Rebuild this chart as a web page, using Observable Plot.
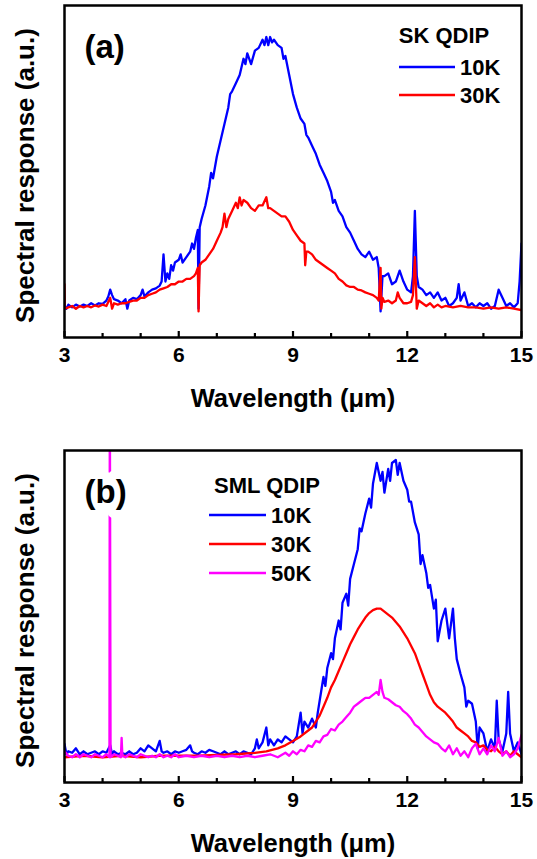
<!DOCTYPE html>
<html>
<head>
<meta charset="utf-8">
<script src="https://cdn.jsdelivr.net/npm/d3@7"></script>
<script src="https://cdn.jsdelivr.net/npm/@observablehq/plot@0.6"></script>
<style>
  html, body { margin: 0; padding: 0; background: #fff; }
  #wrap { width: 537px; }
  #wrap svg { display: block; }
</style>
</head>
<body>
<div id="wrap"></div>
<script>
// ---------- data (wavelength µm, response a.u.) ----------
const majorTicks = [3, 6, 9, 12, 15];
const minorTicks = [4, 5, 7, 8, 10, 11, 13, 14];
const xLabel = "Wavelength (\u03bcm)";
const yLabel = "Spectral response (a.u.)";

const skSeriesNames = ["10K", "30K"];
const smlSeriesNames = ["10K", "30K", "50K"];
const seriesColors = {"10K": "#0000ff", "30K": "#ff0000", "50K": "#ff00ff"};

const sk10K = [[3.00,0.01],[3.05,0.0],[3.1,0.015],[3.2,0.005],[3.3,0.015],[3.4,0.008],[3.5,0.015],[3.6,0.01],[3.7,0.02],[3.8,0.012],[3.9,0.02],[4.0,0.018],[4.1,0.03],[4.15,0.045],[4.2,0.07],[4.25,0.05],[4.3,0.035],[4.4,0.03],[4.5,0.02],[4.6,0.035],[4.65,0.0],[4.7,0.03],[4.8,0.04],[4.9,0.035],[5.0,0.05],[5.05,0.07],[5.1,0.045],[5.2,0.06],[5.3,0.07],[5.4,0.075],[5.5,0.085],[5.55,0.1],[5.6,0.2],[5.65,0.1],[5.7,0.13],[5.75,0.11],[5.8,0.16],[5.85,0.14],[5.9,0.17],[6.0,0.18],[6.05,0.2],[6.1,0.17],[6.2,0.19],[6.3,0.21],[6.35,0.24],[6.4,0.22],[6.45,0.26],[6.5,0.29],[6.52,0.0],[6.55,0.3],[6.6,0.33],[6.7,0.38],[6.8,0.45],[6.85,0.5],[6.9,0.48],[7.0,0.56],[7.1,0.62],[7.2,0.68],[7.3,0.74],[7.35,0.79],[7.4,0.8],[7.5,0.83],[7.6,0.86],[7.7,0.92],[7.75,0.9],[7.8,0.94],[7.9,0.9],[8.0,0.95],[8.1,0.96],[8.2,0.99],[8.25,0.97],[8.3,1.0],[8.35,0.97],[8.4,1.0],[8.45,0.98],[8.5,0.99],[8.6,0.97],[8.7,0.96],[8.75,0.92],[8.8,0.93],[8.9,0.86],[9.0,0.79],[9.1,0.74],[9.2,0.7],[9.3,0.68],[9.35,0.64],[9.4,0.63],[9.5,0.6],[9.6,0.57],[9.7,0.53],[9.8,0.5],[9.9,0.47],[10.0,0.43],[10.05,0.39],[10.1,0.4],[10.2,0.36],[10.3,0.34],[10.4,0.3],[10.5,0.28],[10.6,0.25],[10.7,0.22],[10.8,0.2],[10.9,0.19],[11.0,0.21],[11.1,0.18],[11.2,0.19],[11.25,0.15],[11.3,-0.01],[11.35,0.12],[11.4,0.12],[11.5,0.13],[11.6,0.09],[11.7,0.1],[11.8,0.14],[11.9,0.1],[12.0,0.07],[12.1,0.06],[12.15,0.12],[12.2,0.36],[12.25,0.12],[12.3,0.08],[12.4,0.07],[12.5,0.05],[12.6,0.06],[12.7,0.04],[12.8,0.06],[12.9,0.03],[13.0,0.04],[13.1,0.01],[13.2,0.02],[13.3,0.04],[13.35,0.09],[13.4,0.03],[13.5,0.06],[13.6,0.01],[13.7,0.02],[13.8,0.005],[13.9,0.02],[14.0,0.01],[14.1,0.02],[14.2,0.0],[14.3,0.01],[14.4,0.07],[14.5,0.04],[14.6,0.01],[14.7,0.02],[14.8,0.005],[14.9,0.02],[14.95,0.1],[15.0,0.24]];

const sk30K = [[3.0,0.09],[3.01,0.0],[3.1,0.005],[3.2,0.01],[3.3,0.0],[3.4,0.01],[3.5,0.005],[3.6,0.01],[3.7,0.005],[3.8,0.012],[3.9,0.008],[4.0,0.015],[4.1,0.01],[4.2,0.04],[4.25,0.0],[4.3,0.02],[4.4,0.015],[4.5,0.02],[4.6,0.02],[4.7,0.025],[4.8,0.03],[4.9,0.03],[5.0,0.04],[5.1,0.04],[5.2,0.05],[5.3,0.055],[5.4,0.06],[5.5,0.07],[5.6,0.075],[5.7,0.08],[5.8,0.09],[5.9,0.09],[6.0,0.1],[6.1,0.1],[6.2,0.11],[6.3,0.11],[6.4,0.12],[6.45,0.13],[6.5,0.15],[6.52,-0.01],[6.55,0.16],[6.6,0.17],[6.7,0.18],[6.8,0.2],[6.9,0.22],[7.0,0.25],[7.1,0.28],[7.15,0.3],[7.2,0.35],[7.25,0.3],[7.3,0.33],[7.4,0.36],[7.5,0.39],[7.55,0.37],[7.6,0.41],[7.65,0.38],[7.7,0.4],[7.8,0.39],[7.9,0.37],[8.0,0.36],[8.1,0.38],[8.2,0.38],[8.3,0.41],[8.35,0.37],[8.4,0.37],[8.5,0.36],[8.6,0.35],[8.7,0.34],[8.8,0.34],[8.9,0.32],[9.0,0.29],[9.1,0.27],[9.2,0.25],[9.3,0.24],[9.32,0.16],[9.35,0.21],[9.4,0.21],[9.5,0.2],[9.6,0.18],[9.7,0.17],[9.8,0.16],[9.9,0.15],[10.0,0.14],[10.1,0.13],[10.2,0.11],[10.3,0.1],[10.4,0.086],[10.5,0.08],[10.6,0.08],[10.7,0.07],[10.8,0.067],[10.9,0.06],[11.0,0.055],[11.1,0.05],[11.2,0.04],[11.25,0.03],[11.3,0.15],[11.32,0.0],[11.35,0.04],[11.4,0.025],[11.5,0.03],[11.6,0.02],[11.7,0.03],[11.75,0.06],[11.8,0.04],[11.9,0.02],[12.0,0.02],[12.1,0.025],[12.15,0.05],[12.2,0.19],[12.25,0.0],[12.3,0.03],[12.4,0.02],[12.5,0.01],[12.6,0.02],[12.7,0.005],[12.8,0.015],[12.9,0.005],[13.0,0.01],[13.2,0.005],[13.4,0.01],[13.6,0.005],[13.8,0.005],[14.0,0.0],[14.2,0.005],[14.4,0.0],[14.6,0.005],[14.8,0.0],[15.0,-0.005]];

const sml10K = [[3.0,0.045],[3.05,0.01],[3.1,0.02],[3.2,0.015],[3.3,0.03],[3.4,0.01],[3.5,0.02],[3.6,0.01],[3.7,0.015],[3.8,0.02],[3.9,0.01],[4.0,0.02],[4.1,0.015],[4.2,0.04],[4.25,0.01],[4.3,0.02],[4.4,0.01],[4.5,0.015],[4.6,0.01],[4.7,0.02],[4.8,0.01],[4.9,0.015],[5.0,0.03],[5.1,0.02],[5.2,0.04],[5.3,0.03],[5.4,0.02],[5.5,0.055],[5.55,0.02],[5.6,0.015],[5.7,0.02],[5.8,0.01],[5.9,0.02],[6.0,0.015],[6.1,0.02],[6.2,0.025],[6.3,0.04],[6.35,0.02],[6.4,0.015],[6.5,0.01],[6.6,0.02],[6.7,0.015],[6.8,0.025],[6.9,0.02],[7.0,0.015],[7.1,0.01],[7.2,0.02],[7.3,0.01],[7.4,0.015],[7.5,0.02],[7.6,0.01],[7.7,0.02],[7.8,0.015],[7.9,0.01],[8.0,0.03],[8.05,0.06],[8.1,0.03],[8.2,0.05],[8.3,0.1],[8.35,0.04],[8.4,0.06],[8.5,0.04],[8.6,0.06],[8.7,0.05],[8.8,0.07],[8.9,0.06],[9.0,0.05],[9.1,0.07],[9.2,0.15],[9.25,0.08],[9.3,0.12],[9.4,0.1],[9.5,0.13],[9.6,0.1],[9.65,0.15],[9.7,0.19],[9.8,0.27],[9.85,0.24],[9.9,0.3],[10.0,0.35],[10.05,0.33],[10.1,0.4],[10.2,0.46],[10.25,0.43],[10.3,0.52],[10.4,0.55],[10.45,0.51],[10.5,0.6],[10.6,0.65],[10.7,0.7],[10.75,0.77],[10.8,0.76],[10.9,0.82],[11.0,0.87],[11.05,0.84],[11.1,0.92],[11.2,0.99],[11.25,0.96],[11.3,0.93],[11.35,0.96],[11.4,0.89],[11.5,0.97],[11.55,0.93],[11.6,0.99],[11.7,1.0],[11.75,0.95],[11.8,0.99],[11.9,0.93],[12.0,0.9],[12.05,0.86],[12.1,0.86],[12.2,0.79],[12.3,0.75],[12.35,0.65],[12.4,0.68],[12.5,0.62],[12.55,0.57],[12.6,0.58],[12.7,0.5],[12.75,0.53],[12.8,0.39],[12.9,0.46],[13.0,0.5],[13.1,0.4],[13.2,0.5],[13.25,0.4],[13.3,0.33],[13.4,0.28],[13.5,0.235],[13.55,0.17],[13.6,0.19],[13.7,0.18],[13.8,0.12],[13.85,0.03],[13.9,0.1],[14.0,0.08],[14.1,0.02],[14.2,0.06],[14.3,0.03],[14.35,0.19],[14.4,0.06],[14.5,0.02],[14.6,0.08],[14.65,0.22],[14.7,0.08],[14.8,0.02],[14.9,0.05],[15.0,0.01]];

const sml30K = [[3.0,0.0],[3.5,0.005],[4.0,0.0],[4.5,0.005],[5.0,0.0],[5.5,0.005],[6.0,0.005],[6.5,0.005],[7.0,0.008],[7.5,0.01],[8.0,0.015],[8.3,0.02],[8.6,0.03],[8.8,0.04],[9.0,0.055],[9.2,0.07],[9.4,0.09],[9.5,0.1],[9.6,0.12],[9.7,0.14],[9.8,0.17],[9.9,0.2],[10.0,0.235],[10.1,0.26],[10.2,0.29],[10.3,0.32],[10.4,0.35],[10.5,0.38],[10.6,0.405],[10.7,0.43],[10.8,0.45],[10.9,0.47],[11.0,0.485],[11.1,0.495],[11.2,0.5],[11.3,0.5],[11.4,0.49],[11.5,0.48],[11.6,0.47],[11.7,0.455],[11.8,0.44],[11.9,0.42],[12.0,0.4],[12.1,0.375],[12.2,0.35],[12.3,0.315],[12.4,0.28],[12.5,0.245],[12.6,0.21],[12.7,0.185],[12.8,0.17],[12.9,0.16],[13.0,0.15],[13.1,0.135],[13.2,0.12],[13.3,0.1],[13.4,0.09],[13.5,0.08],[13.6,0.07],[13.7,0.055],[13.8,0.05],[13.9,0.035],[14.0,0.04],[14.1,0.025],[14.2,0.02],[14.3,0.035],[14.4,0.02],[14.5,0.01],[14.6,0.02],[14.7,0.005],[14.8,0.02],[14.9,0.01],[15.0,0.0]];

const sml50K = [[3.0,0.02],[3.1,0.005],[3.2,0.0],[3.3,0.01],[3.4,0.0],[3.5,0.01],[3.6,0.005],[3.7,0.0],[3.8,0.01],[3.9,0.005],[4.0,0.0],[4.1,0.01],[4.18,0.0],[4.19,1.3],[4.21,0.0],[4.3,0.01],[4.4,0.005],[4.48,0.0],[4.5,0.065],[4.52,0.005],[4.6,0.0],[4.7,0.01],[4.8,0.005],[4.9,0.0],[5.0,0.01],[5.1,0.005],[5.2,0.0],[5.3,0.005],[5.4,0.0],[5.5,0.01],[5.6,0.0],[5.7,0.005],[5.8,0.0],[5.9,0.01],[6.0,0.0],[6.2,0.005],[6.4,0.0],[6.6,0.005],[6.8,0.0],[7.0,0.005],[7.2,0.0],[7.4,0.005],[7.6,0.0],[7.8,0.005],[8.0,0.0],[8.2,0.005],[8.4,0.01],[8.6,0.0],[8.8,0.015],[8.9,0.005],[9.0,0.02],[9.1,0.01],[9.2,0.025],[9.3,0.02],[9.4,0.04],[9.5,0.035],[9.6,0.055],[9.7,0.05],[9.8,0.07],[9.9,0.075],[10.0,0.095],[10.1,0.09],[10.2,0.11],[10.3,0.12],[10.4,0.135],[10.5,0.15],[10.6,0.17],[10.7,0.18],[10.8,0.19],[10.9,0.2],[11.0,0.2],[11.1,0.21],[11.2,0.22],[11.25,0.21],[11.3,0.26],[11.35,0.22],[11.4,0.2],[11.5,0.195],[11.6,0.185],[11.7,0.175],[11.8,0.17],[11.9,0.155],[12.0,0.145],[12.1,0.13],[12.2,0.11],[12.3,0.1],[12.4,0.085],[12.5,0.07],[12.6,0.06],[12.7,0.05],[12.8,0.045],[12.9,0.03],[13.0,0.02],[13.1,0.04],[13.2,0.01],[13.3,0.03],[13.4,0.005],[13.5,0.02],[13.6,0.0],[13.7,0.03],[13.8,0.045],[13.9,0.01],[14.0,0.03],[14.1,0.01],[14.2,0.04],[14.3,0.02],[14.4,0.065],[14.5,0.005],[14.6,0.02],[14.7,0.0],[14.8,0.01],[14.9,0.03],[15.0,0.075]];

// ---------- drawing ----------
const FONT = "'Liberation Sans', Arial, Helvetica, sans-serif";
const W = 537;

function panel({height, marginTop, marginBottom, yDomain, series, panelLabel, legendTitle, legendNames, legend}) {
  const marginLeft = 64, marginRight = 16;
  const frameH = height - marginTop - marginBottom;
  const marks = [];
  for (const s of series) {
    marks.push(Plot.line(s.data, {x: d => d[0], y: d => d[1], stroke: seriesColors[s.name], strokeWidth: 2.3, clip: true}));
  }
  marks.push(
    Plot.frame({stroke: "black", strokeWidth: 2.5}),
    Plot.tickX(majorTicks, {x: d => d, insetTop: frameH - 6, stroke: "black", strokeWidth: 2.2}),
    Plot.tickX(minorTicks, {x: d => d, insetTop: frameH - 4, stroke: "black", strokeWidth: 2.2}),
    Plot.axisX(majorTicks, {tickSize: 0, tickPadding: 10, fontSize: 21, fontWeight: "bold", fill: "black", label: null, tickFormat: d => String(d)}),
    Plot.text([xLabel], {frameAnchor: "bottom", lineAnchor: "middle", dy: 61, fontSize: 25.5, fontWeight: "bold", fill: "black"}),
    Plot.text([yLabel], {frameAnchor: "left", textAnchor: "middle", lineAnchor: "middle", dx: -39, dy: 4, rotate: -90, fontSize: 26, fontWeight: "bold", fill: "black"}),
    Plot.text([panelLabel], {frameAnchor: "top-left", lineAnchor: "middle", dx: 20, dy: 42, textAnchor: "start", fontSize: 33, fontWeight: "bold", fill: "black", stroke: "white", strokeWidth: 18, paintOrder: "stroke"})
  );
  const svg = Plot.plot({
    width: W, height, marginLeft, marginRight, marginTop, marginBottom,
    style: {fontFamily: FONT, background: "white", overflow: "visible"},
    x: {domain: [3, 15], axis: null},
    y: {domain: yDomain, axis: null},
    marks
  });
  // legend inside the frame
  const g = d3.select(svg).append("g").attr("font-family", FONT).attr("font-weight", "bold").attr("font-size", 22);
  g.append("text").attr("x", legend.titleX).attr("y", marginTop + legend.titleDy)
    .attr("text-anchor", "middle").attr("dominant-baseline", "central").attr("fill", "black").text(legendTitle);
  legendNames.forEach((name, i) => {
    const yy = marginTop + legend.rowDy + i * legend.rowStep;
    g.append("line").attr("x1", legend.lineX1).attr("x2", legend.lineX2).attr("y1", yy).attr("y2", yy)
      .attr("stroke", seriesColors[name]).attr("stroke-width", 2.5);
    g.append("text").attr("x", legend.lineX2 + 5).attr("y", yy).attr("dominant-baseline", "central")
      .attr("text-anchor", "start").attr("fill", "black").text(name);
  });
  return svg;
}

const wrap = document.getElementById("wrap");
wrap.appendChild(panel({
  height: 420, marginTop: 5, marginBottom: 83, yDomain: [-0.106, 1.116],
  series: [{name: "10K", data: sk10K}, {name: "30K", data: sk30K}],
  panelLabel: "(a)", legendTitle: "SK QDIP", legendNames: skSeriesNames,
  legend: {titleX: 444, titleDy: 30, lineX1: 399, lineX2: 455, rowDy: 62, rowStep: 28}
}));
wrap.appendChild(panel({
  height: 439, marginTop: 30, marginBottom: 77, yDomain: [-0.085, 1.032],
  series: [{name: "10K", data: sml10K}, {name: "30K", data: sml30K}, {name: "50K", data: sml50K}],
  panelLabel: "(b)", legendTitle: "SML QDIP", legendNames: smlSeriesNames,
  legend: {titleX: 267, titleDy: 35, lineX1: 209, lineX2: 266, rowDy: 65, rowStep: 29}
}));
</script>
</body>
</html>
